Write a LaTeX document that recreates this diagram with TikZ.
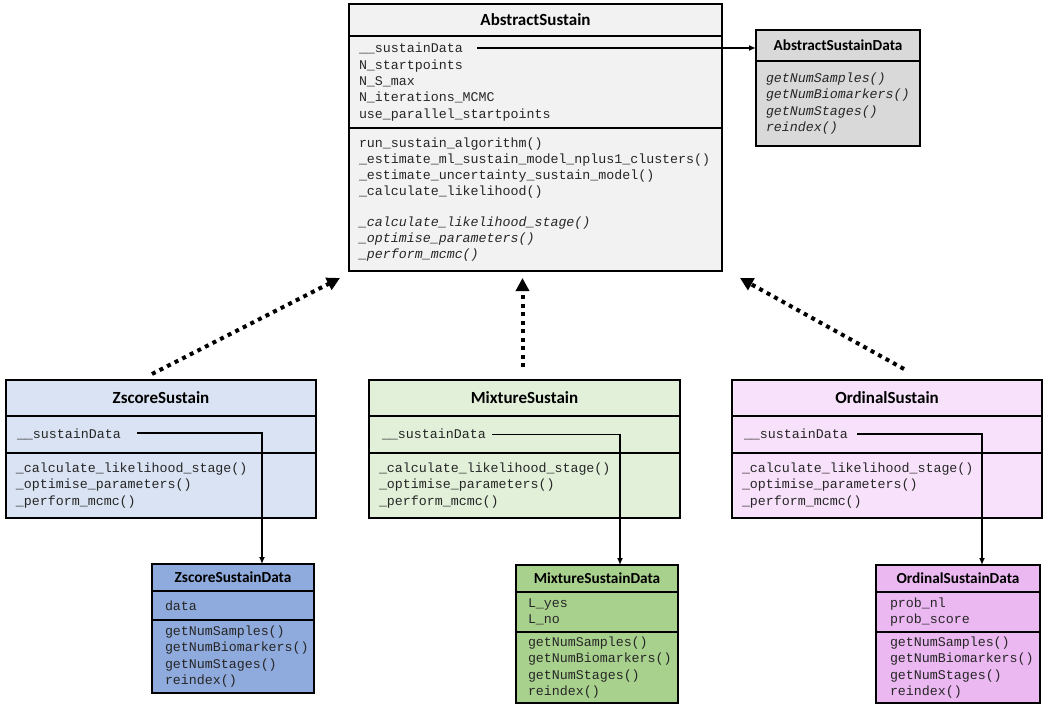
\documentclass[tikz,border=0pt]{standalone}
\usepackage{fontspec}
\setmainfont{Carlito}
\setmonofont{Liberation Mono}
\usepackage{xcolor}
\usepackage{tikz}
\usetikzlibrary{calc, positioning, arrows.meta}

\definecolor{absfill}{HTML}{F2F2F2}
\definecolor{absdatafill}{HTML}{D9D9D9}
\definecolor{zsfill}{HTML}{DAE3F3}
\definecolor{zsdatafill}{HTML}{8FAADC}
\definecolor{mixfill}{HTML}{E2F0D9}
\definecolor{mixdatafill}{HTML}{A9D18E}
\definecolor{ordfill}{HTML}{F8E1FB}
\definecolor{orddatafill}{HTML}{EBB8F1}
\definecolor{codegray}{HTML}{262626}

\newcommand{\codefont}{\ttfamily\fontsize{13.3}{16.3}\selectfont}
\newcommand{\headfont}{\bfseries\fontsize{17}{19}\selectfont}
\newcommand{\subheadfont}{\bfseries\fontsize{15.3}{18}\selectfont}

\begin{document}
\begin{tikzpicture}[x=1pt, y=1pt, >=latex,
    cell/.style={draw=black, line width=1.5pt, outer sep=0pt, inner ysep=0pt,
        inner xsep=10pt, align=left, font=\codefont, text=codegray},
    head/.style={cell, align=center, font=\headfont, text=black},
    subhead/.style={head, font=\subheadfont},
    link/.style={line width=1.5pt, -{Latex[length=7pt, width=6pt]}},
    inherit/.style={line width=4pt, dash pattern=on 4pt off 4.5pt,
        -{Triangle[length=13pt, width=13pt]}}]
    \useasboundingbox (0,0) rectangle (1050,-710);

    % 1. Lớp trừu tượng
    \node[head, fill=absfill, text width=353pt, minimum height=32pt, anchor=north]
        (abs) at (535.5,-4) {AbstractSustain};
    \node[cell, fill=absfill, text width=353pt, minimum height=92pt, below=0pt of abs]
        (absattr) {\_\_sustainData\\N\_startpoints\\N\_S\_max\\N\_iterations\_MCMC\\use\_parallel\_startpoints};
    \node[cell, fill=absfill, text width=353pt, minimum height=143pt, below=0pt of absattr]
        (absmeth) {run\_sustain\_algorithm()\\
        \_estimate\_ml\_sustain\_model\_nplus1\_clusters()\\
        \_estimate\_uncertainty\_sustain\_model()\\
        \_calculate\_likelihood()\\[14pt]
        \textit{\_calculate\_likelihood\_stage()}\\
        \textit{\_optimise\_parameters()}\\
        \textit{\_perform\_mcmc()}};

    \node[subhead, fill=absdatafill, text width=144pt, minimum height=31pt, anchor=north]
        (absdata) at (838,-30) {AbstractSustainData};
    \node[cell, fill=absdatafill, text width=144pt, minimum height=85pt, below=0pt of absdata]
        (absdatameth) {\textit{getNumSamples()}\\\textit{getNumBiomarkers()}\\\textit{getNumStages()}\\\textit{reindex()}};

    % 2. Các lớp con
    \node[head, fill=zsfill, text width=290pt, minimum height=36pt, anchor=north]
        (zs) at (161,-380) {ZscoreSustain};
    \node[cell, fill=zsfill, text width=288pt, inner xsep=11pt, minimum height=37pt, below=0pt of zs]
        (zsattr) {\_\_sustainData};
    \node[cell, fill=zsfill, text width=290pt, minimum height=65pt, below=0pt of zsattr]
        (zsmeth) {\_calculate\_likelihood\_stage()\\\_optimise\_parameters()\\\_perform\_mcmc()};

    \node[head, fill=mixfill, text width=291pt, minimum height=36pt, anchor=north]
        (mix) at (524.5,-380) {MixtureSustain};
    \node[cell, fill=mixfill, text width=285pt, inner xsep=13pt, minimum height=37pt, below=0pt of mix]
        (mixattr) {\_\_sustainData};
    \node[cell, fill=mixfill, text width=291pt, minimum height=65pt, below=0pt of mixattr]
        (mixmeth) {\_calculate\_likelihood\_stage()\\\_optimise\_parameters()\\\_perform\_mcmc()};

    \node[head, fill=ordfill, text width=290pt, minimum height=36pt, anchor=north]
        (ord) at (887,-380) {OrdinalSustain};
    \node[cell, fill=ordfill, text width=286pt, inner xsep=12pt, minimum height=37pt, below=0pt of ord]
        (ordattr) {\_\_sustainData};
    \node[cell, fill=ordfill, text width=290pt, minimum height=65pt, below=0pt of ordattr]
        (ordmeth) {\_calculate\_likelihood\_stage()\\\_optimise\_parameters()\\\_perform\_mcmc()};

    % 3. Các lớp dữ liệu
    \node[subhead, fill=zsdatafill, text width=136pt, inner xsep=13pt, minimum height=27pt, anchor=north]
        (zsdata) at (233,-564) {ZscoreSustainData};
    \node[cell, fill=zsdatafill, text width=136pt, inner xsep=13pt, minimum height=29pt, below=0pt of zsdata]
        (zsdataattr) {data};
    \node[cell, fill=zsdatafill, text width=136pt, inner xsep=13pt, minimum height=73pt, below=0pt of zsdataattr]
        (zsdatameth) {getNumSamples()\\getNumBiomarkers()\\getNumStages()\\reindex()};

    \node[subhead, fill=mixdatafill, text width=138pt, inner xsep=12pt, minimum height=27pt, anchor=north]
        (mixdata) at (597,-565) {MixtureSustainData};
    \node[cell, fill=mixdatafill, text width=138pt, inner xsep=12pt, minimum height=40pt, below=0pt of mixdata]
        (mixdataattr) {L\_yes\\L\_no};
    \node[cell, fill=mixdatafill, text width=138pt, inner xsep=12pt, minimum height=71pt, below=0pt of mixdataattr]
        (mixdatameth) {getNumSamples()\\getNumBiomarkers()\\getNumStages()\\reindex()};

    \node[subhead, fill=orddatafill, text width=136pt, inner xsep=14pt, minimum height=27pt, anchor=north]
        (orddata) at (958,-565) {OrdinalSustainData};
    \node[cell, fill=orddatafill, text width=136pt, inner xsep=14pt, minimum height=40pt, below=0pt of orddata]
        (orddataattr) {prob\_nl\\prob\_score};
    \node[cell, fill=orddatafill, text width=136pt, inner xsep=14pt, minimum height=71pt, below=0pt of orddataattr]
        (orddatameth) {getNumSamples()\\getNumBiomarkers()\\getNumStages()\\reindex()};

    % 4. Mũi tên
    \coordinate (abssd) at ([shift={(128,-12)}]absattr.north west);
    \coordinate (zssd) at ([shift={(131,1.5)}]zsattr.west);
    \coordinate (mixsd) at ([shift={(123,0)}]mixattr.west);
    \coordinate (ordsd) at ([shift={(125,0.5)}]ordattr.west);

    \draw[link] (abssd) -- (abssd -| absdata.west);
    \draw[link] (zssd) -| ([xshift=29]zsdata.north);
    \draw[link] (mixsd) -| ([xshift=23]mixdata.north);
    \draw[link] (ordsd) -| ([xshift=24]orddata.north);

    \draw[inherit] ([shift={(-9,6)}]zs.north) -- ([shift={(-9,-7)}]absmeth.south west);
    \draw[inherit] ([shift={(-2,13)}]mix.north) -- ([shift={(-13,-7)}]absmeth.south);
    \draw[inherit] ([shift={(17,11)}]ord.north) -- ([shift={(18,-7)}]absmeth.south east);
\end{tikzpicture}
\end{document}
